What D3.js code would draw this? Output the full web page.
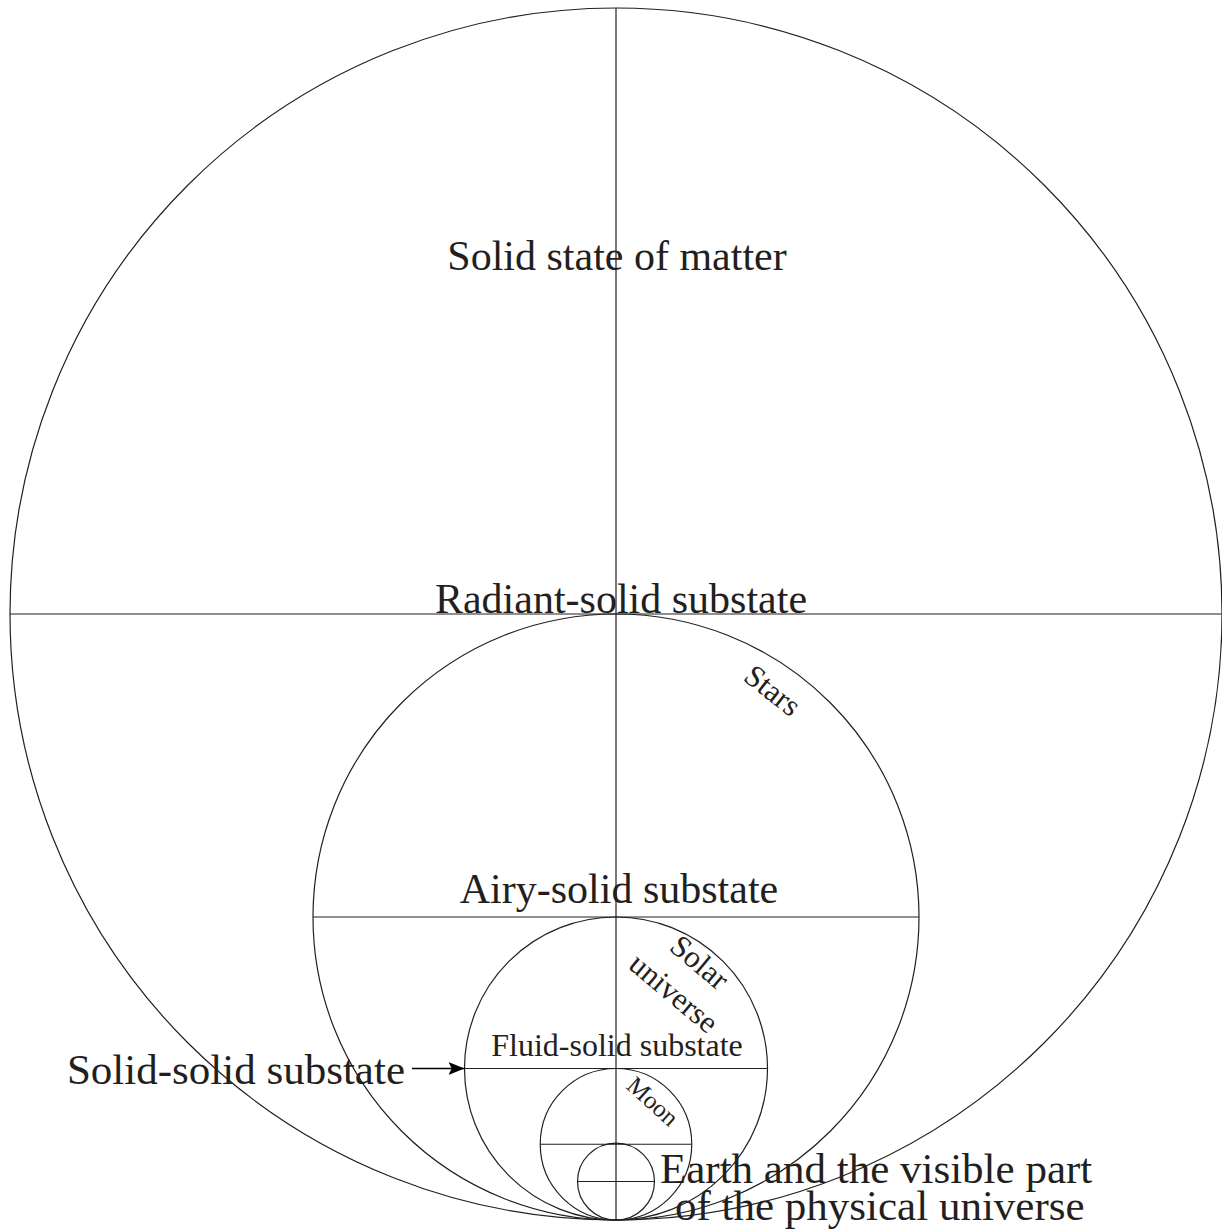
<!DOCTYPE html>
<html>
<head>
<meta charset="UTF-8">
<title>States of matter</title>
<script src="https://d3js.org/d3.v7.min.js"></script>
<style>
  body { margin: 0; background: #fff; }
  text { font-family: "Liberation Serif", "Times New Roman", serif; fill: #231f20; }
  .ring, .axis { fill: none; stroke: #231f20; stroke-width: 1.2px; }
</style>
</head>
<body>
<div id="chart"></div>
<script>
// relative radius of each sphere (outer = 1), and labels
const radii = [1, 0.5, 0.25, 0.125, 0.0635];
const stateLabels = ["Solid state of matter", "Radiant-solid substate", "Airy-solid substate", "Fluid-solid substate"];
const bodyLabels = [["Stars"], ["Solar", "universe"], ["Moon"]];
const pointerLabel = "Solid-solid substate";
const earthLabel = ["Earth and the visible part", "of the physical universe"];

const W = 1222, H = 1229;
const cx = 616, bottomY = 1220;
const r = d3.scaleLinear().domain([0, 1]).range([0, 606]);

const svg = d3.select("#chart").append("svg")
  .attr("width", W).attr("height", H);

svg.append("defs").append("marker")
  .attr("id", "arrow").attr("viewBox", "0 0 10 10")
  .attr("refX", 10).attr("refY", 5)
  .attr("markerWidth", 16).attr("markerHeight", 16)
  .attr("markerUnits", "userSpaceOnUse")
  .attr("orient", "auto")
  .append("path").attr("d", "M0,1 L10,5 L0,9 L2,5 Z").attr("fill", "#000");

const cy = d => bottomY - r(d);

// circles, all touching at the bottom
svg.selectAll(".ring").data(radii).enter().append("circle")
  .attr("class", "ring")
  .attr("cx", cx).attr("cy", cy).attr("r", d => r(d));

// horizontal diameters
svg.selectAll(".diam").data(radii).enter().append("line")
  .attr("class", "axis")
  .attr("x1", d => cx - r(d)).attr("x2", d => cx + r(d))
  .attr("y1", cy).attr("y2", cy);

// vertical axis
svg.append("line").attr("class", "axis")
  .attr("x1", cx).attr("x2", cx)
  .attr("y1", cy(radii[0]) - r(radii[0])).attr("y2", bottomY);

// state labels above each diameter
const stateSizes = [42, 42, 42, 32];
const stateY = [270, 613, 903, 1056];
const stateX = [617, 621, 619, 617];
svg.selectAll(".state").data(stateLabels).enter().append("text")
  .attr("class", "state")
  .attr("x", (d, i) => stateX[i]).attr("y", (d, i) => stateY[i])
  .attr("text-anchor", "middle")
  .style("font-size", (d, i) => stateSizes[i] + "px")
  .text(d => d);

// rotated body labels along the rings
const bodyPos = [
  { x: 773, y: 690, rot: 38, size: 31, gap: 0 },
  { x: 700, y: 962, rot: 40, size: 31, gap: 40 },
  { x: 653, y: 1101, rot: 42, size: 25, gap: 0 }
];
bodyLabels.forEach((lines, i) => {
  const p = bodyPos[i];
  const t = svg.append("text")
    .attr("transform", `translate(${p.x},${p.y}) rotate(${p.rot})`)
    .attr("text-anchor", "middle")
    .style("font-size", p.size + "px");
  lines.forEach((l, j) => {
    t.append("tspan").attr("x", 0).attr("y", j * p.gap + p.size * 0.35).text(l);
  });
});

// pointer to the solid-solid substate
const yPtr = cy(radii[2]);
svg.append("text")
  .attr("x", 405).attr("y", yPtr + 15)
  .attr("text-anchor", "end")
  .style("font-size", "43px")
  .text(pointerLabel);
svg.append("line")
  .attr("x1", 412).attr("x2", cx - r(radii[2]))
  .attr("y1", yPtr).attr("y2", yPtr)
  .attr("stroke", "#000").attr("stroke-width", 1.3)
  .attr("marker-end", "url(#arrow)");

// earth label
svg.selectAll(".earth").data(earthLabel).enter().append("text")
  .attr("class", "earth")
  .attr("x", (d, i) => i === 0 ? 660 : 675)
  .attr("y", (d, i) => 1183 + i * 37)
  .style("font-size", "43px")
  .text(d => d);
</script>
</body>
</html>
